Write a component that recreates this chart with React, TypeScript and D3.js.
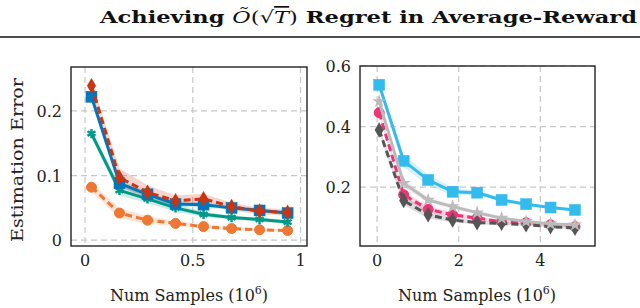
import React from "react";
import * as d3 from "d3";

// ---- data ----
const leftX = [0.03, 0.16, 0.29, 0.42, 0.55, 0.68, 0.81, 0.94];
const leftRed = [0.239, 0.097, 0.074, 0.061, 0.064, 0.052, 0.045, 0.043];
const leftRedErr = [0.008, 0.014, 0.011, 0.008, 0.008, 0.006, 0.005, 0.005];
const leftBlue = [0.222, 0.088, 0.071, 0.056, 0.055, 0.05, 0.046, 0.042];
const leftBlueErr = [0.006, 0.005, 0.004, 0.004, 0.004, 0.003, 0.003, 0.003];
const leftTeal = [0.165, 0.077, 0.064, 0.05, 0.04, 0.035, 0.032, 0.028];
const leftTealErr = [0.006, 0.008, 0.007, 0.006, 0.004, 0.003, 0.003, 0.003];
const leftOrange = [0.082, 0.042, 0.031, 0.026, 0.021, 0.018, 0.016, 0.015];
const leftOrangeErr = [0.007, 0.008, 0.006, 0.004, 0.003, 0.003, 0.002, 0.002];

const rightX = [0.05, 0.65, 1.25, 1.85, 2.45, 3.05, 3.65, 4.25, 4.85];
const rightCyan = [0.538, 0.287, 0.224, 0.185, 0.182, 0.158, 0.144, 0.133, 0.125];
const rightCyanErr = [0.01, 0.02, 0.018, 0.012, 0.008, 0.006, 0.005, 0.004, 0.004];
const rightGray = [0.483, 0.213, 0.158, 0.136, 0.116, 0.098, 0.087, 0.079, 0.076];
const rightGrayErr = [0.01, 0.012, 0.01, 0.008, 0.006, 0.005, 0.004, 0.004, 0.004];
const rightPink = [0.446, 0.175, 0.127, 0.109, 0.098, 0.086, 0.083, 0.076, 0.07];
const rightPinkErr = [0.01, 0.012, 0.01, 0.008, 0.006, 0.005, 0.004, 0.004, 0.004];
const rightDark = [0.389, 0.156, 0.109, 0.092, 0.083, 0.081, 0.076, 0.07, 0.065];
const rightDarkErr = [0.01, 0.015, 0.012, 0.008, 0.006, 0.005, 0.004, 0.004, 0.004];

const leftXTicks = [0, 0.5, 1];
const leftYTicks = [0, 0.1, 0.2];
const rightXTicks = [0, 2, 4];
const rightYTicks = [0.2, 0.4, 0.6];

type Series = {
  ys: number[];
  err: number[];
  color: string;
  dashed: boolean;
  marker: string;
};

const leftSeries: Series[] = [
  { ys: leftOrange, err: leftOrangeErr, color: "#EE7733", dashed: true, marker: "circle" },
  { ys: leftTeal, err: leftTealErr, color: "#009988", dashed: false, marker: "asterisk" },
  { ys: leftBlue, err: leftBlueErr, color: "#0077BB", dashed: false, marker: "square" },
  { ys: leftRed, err: leftRedErr, color: "#CC3311", dashed: true, marker: "diamond" },
];

const rightSeries: Series[] = [
  { ys: rightCyan, err: rightCyanErr, color: "#33BBEE", dashed: false, marker: "square" },
  { ys: rightPink, err: rightPinkErr, color: "#EE3377", dashed: true, marker: "circle" },
  { ys: rightDark, err: rightDarkErr, color: "#555555", dashed: true, marker: "diamond" },
  { ys: rightGray, err: rightGrayErr, color: "#BBBBBB", dashed: false, marker: "star" },
];

const serif = "'DejaVu Serif', 'Liberation Serif', serif";

function Marker({ kind, x, y, color }: { kind: string; x: number; y: number; color: string }) {
  if (kind === "circle") {
    return <circle cx={x} cy={y} r={5} fill={color} stroke={color} strokeWidth={1} />;
  }
  if (kind === "square") {
    return <rect x={x - 5.5} y={y - 5.5} width={11} height={11} fill={color} stroke={color} strokeWidth={0.5} />;
  }
  if (kind === "diamond") {
    const p = d3.symbol().type(d3.symbolDiamond).size(70)();
    return <path d={p || ""} transform={`translate(${x},${y})`} fill={color} />;
  }
  if (kind === "star") {
    const p = d3.symbol().type(d3.symbolStar).size(60)();
    return <path d={p || ""} transform={`translate(${x},${y})`} fill={color} />;
  }
  const p = d3.symbol().type(d3.symbolAsterisk).size(60)();
  return <path d={p || ""} transform={`translate(${x},${y})`} fill="none" stroke={color} strokeWidth={2.4} />;
}

function Panel({
  xs, series, xDomain, yDomain, left, right, top, bottom, xTicks, yTicks, xFmt, yFmt,
}: {
  xs: number[]; series: Series[]; xDomain: [number, number]; yDomain: [number, number];
  left: number; right: number; top: number; bottom: number;
  xTicks: number[]; yTicks: number[]; xFmt: (v: number) => string; yFmt: (v: number) => string;
}) {
  const x = d3.scaleLinear().domain(xDomain).range([left, right]);
  const y = d3.scaleLinear().domain(yDomain).range([bottom, top]);
  const line = d3.line<number>().x((_, i) => x(xs[i])).y((d) => y(d));
  return (
    <g>
      {xTicks.map((t) => (
        <g key={"gx" + t}>
          <line x1={x(t)} x2={x(t)} y1={top} y2={bottom} stroke="#c8c8c8" strokeWidth={1.2} strokeDasharray="6 4" />
          <text x={x(t)} y={bottom + 20} textAnchor="middle" fontFamily={serif} fontSize={16} fill="#222">{xFmt(t)}</text>
        </g>
      ))}
      {yTicks.map((t) => (
        <g key={"gy" + t}>
          <line x1={left} x2={right} y1={y(t)} y2={y(t)} stroke="#c8c8c8" strokeWidth={1.2} strokeDasharray="6 4" />
          <text x={left - 9} y={y(t) + 6} textAnchor="end" fontFamily={serif} fontSize={16} fill="#222">{yFmt(t)}</text>
        </g>
      ))}
      {series.map((s, si) => {
        const area = d3.area<number>()
          .x((_, i) => x(xs[i]))
          .y0((d, i) => y(d - s.err[i]))
          .y1((d, i) => y(d + s.err[i]));
        return <path key={"a" + si} d={area(s.ys) || ""} fill={s.color} opacity={0.2} />;
      })}
      {series.map((s, si) => (
        <g key={"s" + si}>
          <path d={line(s.ys) || ""} fill="none" stroke={s.color} strokeWidth={3}
            strokeDasharray={s.dashed ? "7 4" : undefined} strokeLinejoin="round" />
          {s.ys.map((v, i) => (
            <Marker key={i} kind={s.marker} x={x(xs[i])} y={y(v)} color={s.color} />
          ))}
        </g>
      ))}
      <rect x={left} y={top} width={right - left} height={bottom - top} fill="none" stroke="#222" strokeWidth={1.4} />
    </g>
  );
}

export default function App() {
  return (
    <svg width={640} height={308} style={{ position: "absolute", left: 0, top: 0, background: "#fff" }}>
      <text x={637} y={23} textAnchor="end" fontFamily={serif} fontSize={17} fill="#111" textLength={537} lengthAdjust="spacingAndGlyphs">
        <tspan fontWeight="bold">Achieving </tspan>
        <tspan fontStyle="italic">Õ</tspan>
        <tspan>(√</tspan>
        <tspan fontStyle="italic" textDecoration="overline">T</tspan>
        <tspan>)</tspan>
        <tspan fontWeight="bold"> Regret in Average-Reward</tspan>
      </text>
      <line x1={0} x2={640} y1={37} y2={37} stroke="#111" strokeWidth={1.6} />

      <Panel xs={leftX} series={leftSeries} xDomain={[-0.065, 1.03]} yDomain={[-0.009, 0.268]}
        left={71} right={307} top={67} bottom={246} xTicks={leftXTicks} yTicks={leftYTicks}
        xFmt={(v) => String(v)} yFmt={(v) => String(v)} />
      <Panel xs={rightX} series={rightSeries} xDomain={[-0.42, 5.34]} yDomain={[0.006, 0.6]}
        left={360} right={595} top={66} bottom={246} xTicks={rightXTicks} yTicks={rightYTicks}
        xFmt={(v) => String(v)} yFmt={(v) => v.toFixed(1)} />

      <text transform="translate(23,160) rotate(-90)" textAnchor="middle" fontFamily={serif} fontSize={16} fill="#222"
        textLength={164} lengthAdjust="spacingAndGlyphs">
        Estimation Error
      </text>
      <text x={189} y={301} textAnchor="middle" fontFamily={serif} fontSize={16} fill="#222">
        Num Samples (10<tspan dy={-7} fontSize={11}>6</tspan><tspan dy={7}>)</tspan>
      </text>
      <text x={477} y={301} textAnchor="middle" fontFamily={serif} fontSize={16} fill="#222">
        Num Samples (10<tspan dy={-7} fontSize={11}>6</tspan><tspan dy={7}>)</tspan>
      </text>
    </svg>
  );
}
